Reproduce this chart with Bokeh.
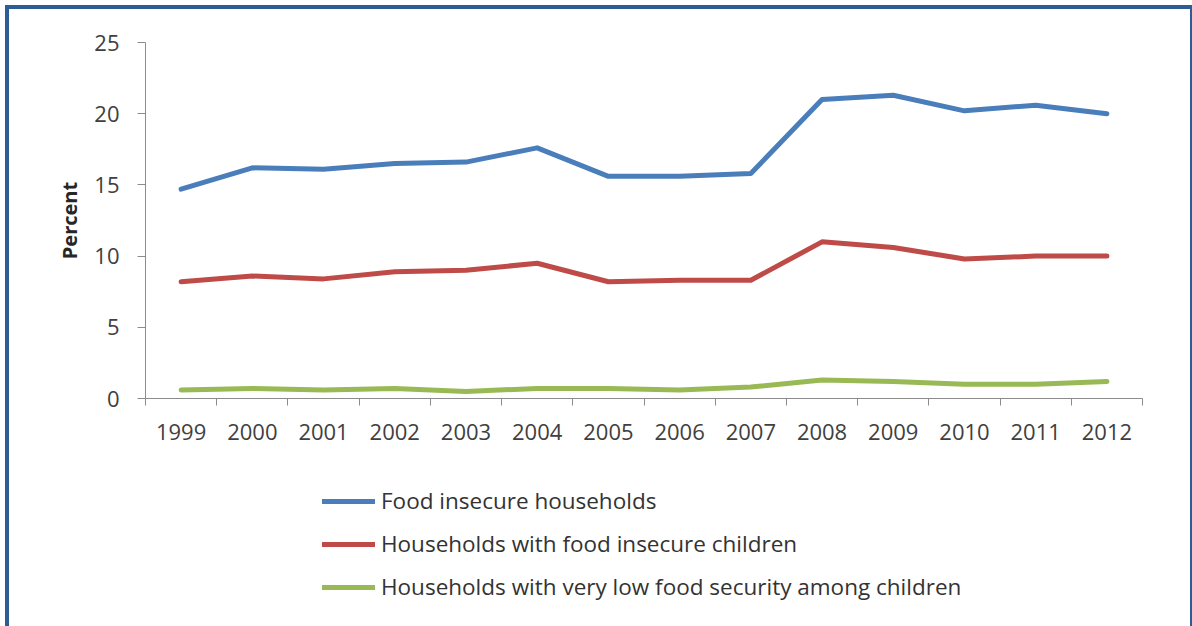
import numpy as np
from bokeh.plotting import figure
from bokeh.layouts import column
from bokeh.models import Range1d, FixedTicker, Legend, LegendItem
from bokeh.embed import file_html
from bokeh.resources import INLINE

years = ["1999", "2000", "2001", "2002", "2003", "2004", "2005", "2006",
         "2007", "2008", "2009", "2010", "2011", "2012"]
food_insecure_households = [14.7, 16.2, 16.1, 16.5, 16.6, 17.6, 15.6, 15.6,
                            15.8, 21.0, 21.3, 20.2, 20.6, 20.0]
households_food_insecure_children = [8.2, 8.6, 8.4, 8.9, 9.0, 9.5, 8.2, 8.3,
                                     8.3, 11.0, 10.6, 9.8, 10.0, 10.0]
households_vlfs_children = [0.6, 0.7, 0.6, 0.7, 0.5, 0.7, 0.7, 0.6,
                            0.8, 1.3, 1.2, 1.0, 1.0, 1.2]
y_ticks = [0, 5, 10, 15, 20, 25]

series_names = ["Food insecure households",
                "Households with food insecure children",
                "Households with very low food security among children"]
series_colors = ["#4A7EBB", "#BE4B48", "#98B954"]
series_values = [food_insecure_households, households_food_insecure_children,
                 households_vlfs_children]

FONT = "Open Sans"
TXT = "#404040"

n = len(years)
xs = np.arange(n) + 0.5

p = figure(width=1192, height=460, output_backend="svg", toolbar_location=None,
           x_range=Range1d(0, n), y_range=Range1d(0, 25),
           min_border_left=145, min_border_right=50, min_border_top=42,
           min_border_bottom=62)
p.border_fill_alpha = 0
p.background_fill_color = "white"
p.outline_line_color = None
p.xgrid.grid_line_color = None
p.ygrid.grid_line_color = None

for vals, col in zip(series_values, series_colors):
    p.line(xs, vals, line_color=col, line_width=5, line_cap="round", line_join="round")

# x axis: labels at category centers, ticks at boundaries
p.xaxis.ticker = FixedTicker(ticks=list(xs), minor_ticks=list(range(n + 1)))
p.xaxis.major_label_overrides = {float(x): y for x, y in zip(xs, years)}
p.xaxis.major_tick_out = 0
p.xaxis.major_tick_in = 0
p.xaxis.minor_tick_out = 7
p.xaxis.minor_tick_in = 0
p.xaxis.axis_line_color = "#8C8C8C"
p.xaxis.minor_tick_line_color = "#8C8C8C"
p.xaxis.major_label_text_font = FONT
p.xaxis.major_label_text_font_size = "22px"
p.xaxis.major_label_text_color = TXT
p.xaxis.major_label_standoff = 18

p.yaxis.ticker = FixedTicker(ticks=y_ticks)
p.yaxis.minor_tick_line_color = None
p.yaxis.major_tick_out = 8
p.yaxis.major_tick_in = 0
p.yaxis.axis_line_color = "#8C8C8C"
p.yaxis.major_tick_line_color = "#8C8C8C"
p.yaxis.major_label_text_font = FONT
p.yaxis.major_label_text_font_size = "22px"
p.yaxis.major_label_text_color = TXT
p.yaxis.major_label_standoff = 18
p.yaxis.axis_label = "Percent"
p.yaxis.axis_label_text_font = FONT
p.yaxis.axis_label_text_font_size = "20px"
p.yaxis.axis_label_text_font_style = "bold"
p.yaxis.axis_label_text_color = "#262626"
p.yaxis.axis_label_standoff = 8

# legend panel below the chart (series drawn outside its view, legend only)
pl = figure(width=1192, height=166, output_backend="svg", toolbar_location=None,
            x_axis_type=None, y_axis_type=None, min_border=0,
            x_range=Range1d(100, 101), y_range=Range1d(100, 101))
pl.border_fill_alpha = 0
pl.background_fill_alpha = 0
pl.outline_line_color = None
pl.xgrid.grid_line_color = None
pl.ygrid.grid_line_color = None
leg_renderers = [pl.line(xs, vals, line_color=c, line_width=5, line_cap="round")
                 for vals, c in zip(series_values, series_colors)]
legend = Legend(items=[LegendItem(label=nm, renderers=[r]) for nm, r in zip(series_names, leg_renderers)],
                location=(177, 24), orientation="vertical",
                glyph_width=53, glyph_height=22, label_height=22, spacing=12,
                padding=0, margin=0, label_standoff=6,
                border_line_color=None, background_fill_alpha=0,
                label_text_font=FONT, label_text_font_size="22.5px",
                label_text_color="#333333")
pl.add_layout(legend, "center")

layout = column(p, pl, spacing=0)
layout.styles = {"box-shadow": "inset 5px 5px 0 0 #ffffff, inset 9px 9px 0 0 #2C5D98, inset -2px 0 0 0 #2C5D98"}

open("out.html", "w").write(file_html(layout, INLINE))
